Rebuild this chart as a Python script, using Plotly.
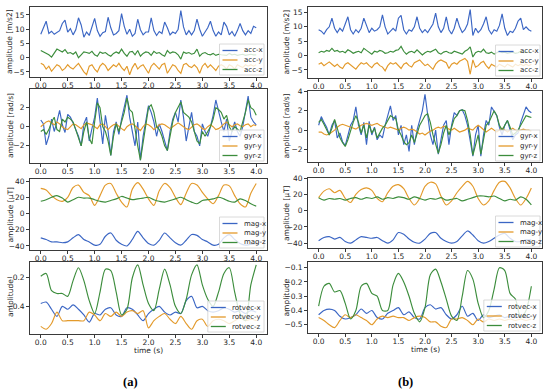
import plotly.graph_objects as go

# ---------------- time grids ----------------
t_fast = [round(i * 0.05, 2) for i in range(81)]   # acc / gyr sampling used here
t_slow = [round(i * 0.1, 1) for i in range(41)]    # mag / rotvec sampling used here

# ---------------- (a) accelerometer ----------------
acc_x_a = [8.2, 10.5, 12.8, 8.5, 9.3, 8.2, 8.8, 9.5, 12.0, 13.2, 9.0, 10.2, 8.0, 9.8, 14.0, 11.5, 7.2, 9.0, 7.8, 11.0,
           13.8, 9.5, 7.5, 8.8, 9.2, 14.2, 10.5, 8.0, 8.5, 9.5, 15.5, 11.0, 8.2, 10.0, 7.5, 8.5, 13.5, 9.8, 8.0, 9.0,
           9.0, 14.0, 9.5, 7.8, 9.2, 8.5, 12.5, 10.5, 8.0, 9.0, 8.5, 10.0, 16.5, 10.8, 8.0, 9.5, 8.0, 9.5, 13.5, 10.0,
           7.5, 9.0, 10.5, 12.8, 9.5, 7.5, 9.0, 8.0, 12.5, 11.0, 8.0, 9.2, 7.5, 9.5, 12.0, 9.5, 8.0, 9.5, 8.5, 11.0, 10.5]
acc_y_a = [-2.0, -2.5, -4.0, -3.0, -4.8, -3.5, -2.5, -3.0, -4.5, -3.8, -2.5, -3.5, -4.0, -3.0, -2.0, -3.5, -5.0, -6.0, -3.0, -2.5,
           -4.0, -5.0, -3.0, -2.0, -2.8, -4.5, -3.5, -2.5, -3.2, -2.0, -3.5, -4.5, -3.0, -6.0, -3.5, -2.0, -4.0, -3.0, -2.5, -4.0,
           -5.5, -3.0, -2.0, -3.0, -4.0, -2.5, -2.0, -5.5, -4.0, -2.5, -3.0, -4.5, -5.5, -2.5, -2.0, -3.0, -3.5, -2.5, -3.5, -5.5,
           -3.0, -2.0, -3.5, -2.5, -3.5, -4.5, -3.0, -2.5, -3.0, -4.0, -2.5, -3.0, -4.0, -2.5, -3.0, -3.5, -2.5, -3.0, -2.5, -3.0, -2.5]
acc_z_a = [2.5, 2.0, 1.5, 1.0, 0.2, 1.5, 3.0, 2.5, 2.0, 2.8, 1.5, 1.8, 1.2, 2.0, 0.0, 1.0, 2.0, 1.8, 1.5, 2.2,
           1.0, 0.5, 2.0, 1.5, 1.8, 1.0, 0.5, 1.5, 2.0, 1.5, 3.0, 1.5, 0.5, 2.0, 2.2, 1.0, 2.5, 0.5, 1.5, 2.0,
           1.8, 0.8, 2.2, 1.5, 1.8, 1.0, 0.5, 2.5, 1.5, 2.0, 1.8, 1.0, -0.5, 2.0, 1.5, 1.8, 1.2, 1.5, 3.0, 0.5,
           1.5, 1.8, 1.2, 1.0, 1.5, 0.8, 1.2, 1.0, 1.0, 0.8, 1.5, 1.0, 1.2, 0.8, 1.0, 1.2, 0.8, 1.0, 1.2, 1.0, 1.0]

# ---------------- (b) accelerometer ----------------
acc_x_b = [9.0, 8.5, 7.5, 9.0, 10.0, 13.0, 9.5, 8.0, 9.5, 8.5, 11.0, 13.5, 9.0, 7.5, 9.0, 8.0, 9.5, 13.0, 10.5, 8.0,
           9.5, 8.5, 9.0, 10.0, 14.2, 10.0, 7.5, 8.5, 9.5, 8.5, 13.0, 14.0, 9.0, 7.5, 9.0, 8.5, 10.0, 13.5, 9.5, 8.0,
           9.0, 8.0, 9.5, 11.0, 14.8, 10.0, 8.0, 9.5, 13.5, 9.0, 7.5, 9.5, 13.0, 10.0, 8.0, 9.0, 11.0, 16.0, 7.0, 9.5,
           8.0, 9.0, 11.0, 13.5, 9.0, 7.5, 9.0, 8.5, 10.5, 14.5, 9.5, 7.0, 8.5, 8.0, 9.5, 12.0, 13.0, 9.0, 10.0, 9.0, 8.5]
acc_y_b = [-3.0, -2.5, -3.5, -2.8, -2.2, -3.0, -3.8, -3.0, -4.0, -4.5, -3.0, -2.5, -3.2, -4.0, -4.7, -3.5, -2.5, -3.0, -2.5, -3.5,
           -4.2, -3.0, -2.5, -3.5, -4.0, -5.3, -3.5, -2.5, -3.0, -2.5, -3.5, -4.5, -3.0, -2.5, -3.5, -4.0, -2.5, -2.0, -1.5, -2.5,
           -3.5, -3.0, -4.0, -4.8, -3.0, -2.0, -1.5, -2.0, -2.5, -4.5, -3.0, -2.5, -3.0, -2.0, -1.5, -1.0, -2.0, -6.5, -1.5, -4.0,
           -3.5, -2.5, -2.0, -3.5, -4.5, -3.0, -3.5, -4.0, -3.0, -3.5, -4.0, -3.0, -3.5, -4.0, -3.0, -3.5, -3.0, -3.5, -3.0, -3.5, -3.0]
acc_z_b = [1.0, 1.5, 1.2, 1.8, 1.5, 2.5, 1.5, 1.8, 1.2, 1.5, 1.0, 2.0, 1.5, 0.8, 1.2, 1.5, 1.0, 2.5, 1.8, 1.0,
           0.5, 1.5, 1.2, 1.8, 1.5, 0.8, 1.0, 1.5, 1.2, 1.8, 2.0, 3.2, 1.5, 0.5, 1.2, 1.5, 1.0, 2.0, 1.2, 0.2,
           1.0, 1.5, 1.2, 1.8, 2.2, 1.0, 0.5, 1.2, 1.5, 1.0, 0.8, 1.5, 1.2, 1.0, 0.5, 1.5, 2.0, 3.0, -0.5, 1.0,
           1.5, 1.2, 2.2, 1.0, 0.8, 1.2, 0.5, 1.0, 1.5, 1.0, 1.2, 0.8, 1.0, 1.2, 0.8, 1.0, 1.5, 1.0, 1.2, 1.0, 1.0]

# ---------------- (a) gyroscope ----------------
gyr_x_a = [0.7, 0.3, -1.9, -1.0, 0.8, -0.5, 0.5, 1.7, 0.2, -0.6, 1.3, 1.0, 0.4, -0.3, -1.0, -2.0, 0.3, 1.0, -1.5, -0.2,
           1.0, 3.0, 0.8, -1.8, 1.2, -0.5, -3.0, -0.5, 0.5, -0.8, 0.8, 2.0, 3.3, 1.0, -0.5, -2.0, 0.5, -3.5, -1.0, 0.5,
           2.2, 1.5, 0.5, -1.0, 0.3, -0.5, -1.5, -2.5, -0.5, 0.8, 1.5, 0.5, 2.8, 1.0, -1.5, 0.0, 1.5, -0.5, -1.0, -2.0,
           0.3, -0.5, -1.0, 0.0, 1.2, 2.8, 1.5, 0.5, -0.5, 0.8, -1.5, -0.5, 0.5, -0.5, -1.0, 0.0, 1.5, 3.2, 1.0, 0.5, 0.2]
gyr_y_a = [0.0, 0.3, 0.5, 0.6, 0.4, 0.2, 0.5, 0.3, 0.0, -0.2, -0.3, 0.0, 0.3, 0.2, 0.0, -0.2, 0.2, 0.4, 0.3, 0.2,
           0.0, -0.2, 0.2, 0.3, 0.0, -0.3, 0.0, 0.2, 0.3, 0.0, -0.2, -0.4, 0.0, 0.2, 0.3, 0.1, -0.2, -0.4, 0.0, 0.3,
           0.2, 0.0, -0.3, 0.0, 0.2, 0.3, 0.2, 0.0, -0.2, 0.0, 0.2, 0.4, 0.2, 0.0, -0.2, -0.3, 0.0, 0.2, 0.3, 0.1,
           -0.2, -0.3, 0.0, 0.2, 0.0, -0.3, -0.2, 0.0, 0.3, 0.5, 0.2, 0.0, 0.2, 0.3, 0.1, 0.0, 0.2, 0.3, 0.0, 0.2, 0.1]
gyr_z_a = [-0.5, -0.3, -0.8, -0.3, 0.5, 1.0, -0.3, -0.5, 0.8, 0.5, 1.0, 0.8, 0.5, -0.3, -1.0, -2.0, -0.5, 0.5, -1.2, -1.8,
           0.5, 2.5, 2.0, 0.0, -0.5, -1.5, -3.0, -1.0, 0.3, -0.5, 0.5, 1.5, 3.0, 1.8, 1.5, -0.5, -2.0, -3.5, -1.5, 0.5,
           2.0, 2.3, 1.5, 0.0, -0.3, -1.0, -2.0, -2.5, -1.0, 0.5, 1.5, 2.0, 2.6, 1.5, 1.2, 1.0, 0.5, -0.5, -1.5, -1.8,
           -0.5, -1.0, -0.5, 0.0, 0.8, 2.0, 1.8, 1.5, 0.8, 1.2, 0.0, -0.5, 0.0, -0.3, -0.5, 0.5, 1.5, 2.8, 2.0, 1.8, 1.2]

# ---------------- (b) gyroscope ----------------
gyr_x_b = [0.5, 1.4, 0.8, 0.3, -0.5, 0.5, 1.0, -0.8, -0.3, -1.2, -1.6, -0.5, 0.5, 1.0, 2.4, 0.5, -0.5, 0.8, -1.5, 0.9,
           -0.5, 0.3, -1.0, -0.5, -0.8, 0.5, 1.5, 2.5, 1.0, 1.5, -0.5, 0.5, -1.5, -0.5, -2.2, 0.5, -1.5, 0.0, 1.0, 2.0,
           3.7, 1.5, -0.5, -1.5, 0.0, -2.5, -1.0, 0.5, 1.0, -1.5, 0.5, 1.8, 1.5, 2.0, 2.1, 1.5, 0.5, -1.0, -2.7, -0.5,
           0.5, -2.7, -0.5, 1.0, 0.5, 2.4, 2.0, 1.5, 0.3, -0.5, 0.5, 1.0, 0.0, -1.0, -0.5, -0.3, 0.8, 1.5, 2.4, 2.0, 1.8]
gyr_y_b = [-0.2, -0.2, -0.4, -0.5, -0.4, -0.2, 0.0, 0.3, 0.5, 0.6, 0.5, 0.4, 0.3, 0.2, 0.1, 0.3, 0.5, 0.6, 0.7, 0.6,
           0.5, 0.6, 0.7, 0.5, 0.4, 0.3, 0.2, 0.3, 0.2, 0.1, 0.0, 0.2, 0.3, 0.2, 0.0, 0.1, 0.0, -0.2, -0.4, -0.3,
           -0.5, -0.3, -0.1, 0.0, 0.2, 0.3, 0.2, 0.4, 0.3, 0.1, 0.0, 0.2, 0.0, -0.2, -0.1, 0.0, 0.2, 0.1, 0.0, 0.3,
           0.5, 0.3, 0.0, -0.2, 0.0, 0.2, 0.0, -0.2, 0.0, 0.2, 0.0, -0.2, 0.0, 0.2, 0.0, -0.1, 0.0, 0.1, 0.0, 0.0, -0.1]
gyr_z_b = [0.8, 1.1, 0.6, 0.0, -0.5, 0.2, 1.1, 0.2, -0.8, -1.3, -1.7, -1.0, 0.0, 0.8, 1.5, 0.8, -0.3, 0.5, -0.8, 0.5,
           -0.3, 0.2, -0.8, -0.3, 0.2, 0.5, 1.0, 1.5, 1.3, 1.2, 0.0, -0.5, -1.2, -1.5, -1.3, -0.5, -1.3, -0.5, 0.5, 1.0,
           1.5, 1.7, 0.8, -0.5, -1.5, -2.4, -1.5, -0.3, 0.5, -0.5, 0.3, 1.2, 1.5, 2.0, 2.1, 2.0, 1.0, -0.5, -2.6, -1.5,
           -0.5, -2.5, -0.8, 0.5, 0.8, 1.5, 2.0, 1.5, 0.5, 0.0, 0.5, 1.0, 0.3, -0.5, -0.3, 0.0, 0.5, 1.0, 1.5, 1.4, 1.3]

# ---------------- magnetometer ----------------
mag_x_a = [-30, -32, -35, -35, -36, -35, -30, -26, -32, -35, -39, -38, -28, -24, -33, -38, -40, -32, -22, -30, -37,
           -39, -33, -24, -30, -36, -39, -33, -26, -27, -32, -35, -39, -38, -30, -26, -32, -37, -39, -38, -37]
mag_y_a = [31, 29, 22, 17, 15, 20, 32, 35, 26, 22, 10, 22, 35, 37, 25, 14, 8, 30, 38, 30, 18,
           10, 28, 37, 32, 20, 11, 25, 37, 35, 26, 18, 12, 22, 35, 34, 22, 12, 8, 25, 37]
mag_z_a = [15, 17, 20, 22, 19, 14, 17, 20, 19, 19, 17, 15, 14, 16, 18, 21, 19, 17, 18, 19, 20,
           17, 15, 14, 16, 18, 20, 17, 14, 12, 16, 17, 18, 20, 18, 15, 14, 18, 16, 12, 9]
mag_x_b = [-37, -33, -32, -35, -33, -38, -40, -36, -32, -33, -34, -33, -37, -40, -36, -27, -29, -35, -39, -40, -35,
           -28, -27, -34, -38, -40, -38, -31, -25, -30, -37, -40, -38, -34, -30, -28, -34, -38, -38, -36, -36]
mag_y_b = [16, 24, 27, 22, 25, 15, 10, 20, 26, 28, 25, 15, 11, 22, 30, 32, 27, 15, 7, 15, 30,
           35, 33, 18, 7, 12, 22, 30, 36, 30, 15, 7, 12, 25, 35, 36, 28, 15, 7, 15, 28]
mag_z_b = [16, 13, 15, 14, 15, 13, 15, 16, 14, 16, 15, 17, 14, 16, 15, 17, 16, 14, 17, 15, 13,
           15, 14, 16, 13, 14, 15, 12, 14, 16, 18, 18, 17, 18, 15, 12, 14, 13, 17, 14, 7]

# ---------------- rotation vector ----------------
rot_x_a = [-0.38, -0.37, -0.42, -0.47, -0.40, -0.42, -0.39, -0.42, -0.46, -0.51, -0.45, -0.46, -0.42, -0.41,
           -0.46, -0.47, -0.41, -0.42, -0.46, -0.50, -0.45, -0.42, -0.40, -0.44, -0.46, -0.44, -0.45, -0.36,
           -0.33, -0.41, -0.40, -0.43, -0.44, -0.43, -0.41, -0.42, -0.44, -0.43, -0.45, -0.43, -0.44]
rot_y_a = [-0.54, -0.56, -0.52, -0.44, -0.50, -0.50, -0.50, -0.50, -0.50, -0.44, -0.46, -0.50, -0.45, -0.47,
           -0.44, -0.47, -0.44, -0.43, -0.45, -0.43, -0.55, -0.50, -0.47, -0.45, -0.49, -0.52, -0.47, -0.52,
           -0.56, -0.50, -0.49, -0.54, -0.50, -0.49, -0.50, -0.52, -0.50, -0.48, -0.50, -0.49, -0.50]
rot_z_a = [-0.19, -0.17, -0.29, -0.31, -0.31, -0.33, -0.22, -0.13, -0.22, -0.36, -0.45, -0.30, -0.14, -0.15,
           -0.30, -0.46, -0.42, -0.20, -0.11, -0.25, -0.38, -0.43, -0.28, -0.14, -0.25, -0.40, -0.45, -0.35,
           -0.18, -0.11, -0.25, -0.35, -0.40, -0.30, -0.17, -0.13, -0.30, -0.45, -0.50, -0.25, -0.11]
rot_x_b = [-0.43, -0.40, -0.39, -0.40, -0.44, -0.46, -0.45, -0.43, -0.39, -0.42, -0.40, -0.45, -0.46, -0.42,
           -0.40, -0.38, -0.43, -0.41, -0.45, -0.46, -0.38, -0.36, -0.39, -0.38, -0.43, -0.46, -0.43, -0.37,
           -0.44, -0.42, -0.47, -0.43, -0.45, -0.44, -0.43, -0.45, -0.44, -0.45, -0.44, -0.45, -0.44]
rot_y_b = [-0.45, -0.47, -0.50, -0.52, -0.47, -0.43, -0.45, -0.43, -0.45, -0.47, -0.50, -0.46, -0.44, -0.45,
           -0.44, -0.45, -0.45, -0.47, -0.45, -0.44, -0.45, -0.48, -0.48, -0.51, -0.52, -0.46, -0.46, -0.45,
           -0.47, -0.50, -0.46, -0.48, -0.46, -0.47, -0.46, -0.47, -0.46, -0.47, -0.46, -0.47, -0.46]
rot_z_b = [-0.37, -0.23, -0.21, -0.27, -0.26, -0.35, -0.46, -0.40, -0.23, -0.21, -0.28, -0.30, -0.40, -0.40,
           -0.22, -0.14, -0.20, -0.30, -0.42, -0.48, -0.38, -0.15, -0.11, -0.20, -0.32, -0.44, -0.47, -0.30,
           -0.12, -0.18, -0.35, -0.45, -0.40, -0.25, -0.10, -0.12, -0.28, -0.32, -0.45, -0.40, -0.23]

x_ticks = [0.0, 0.5, 1.0, 1.5, 2.0, 2.5, 3.0, 3.5, 4.0]

COLORS = ["#3b66c4", "#e39a2b", "#3c8d3c"]
FONT = "DejaVu Sans"
TXT = "#262626"

# panel definitions
panels = [
    (t_fast, [acc_x_a, acc_y_a, acc_z_a], ["acc-x", "acc-y", "acc-z"], "amplitude [m/s2]",
     [-6.8, 17.8], [-5, 0, 5, 10, 15], "", "linear", (30, 267, 7, 77), (264, 75)),
    (t_fast, [acc_x_b, acc_y_b, acc_z_b], ["acc-x", "acc-y", "acc-z"], "amplitude [m/s2]",
     [-7.8, 16.9], [-5, 0, 5, 10, 15], "", "linear", (308, 542, 7, 78), (540, 76)),
    (t_fast, [gyr_x_a, gyr_y_a, gyr_z_a], ["gyr-x", "gyr-y", "gyr-z"], "amplitude [rad/s]",
     [-3.8, 3.95], [-2, 0, 2], "", "linear", (30, 267, 89, 163), (264, 161)),
    (t_fast, [gyr_x_b, gyr_y_b, gyr_z_b], ["gyr-x", "gyr-y", "gyr-z"], "amplitude [rad/s]",
     [-3.3, 4.05], [-2, 0, 2, 4], "", "linear", (308, 542, 91, 162), (540, 161)),
    (t_slow, [mag_x_a, mag_y_a, mag_z_a], ["mag-x", "mag-y", "mag-z"], "amplitude [μT]",
     [-45, 42.5], [-40, -20, 0, 20, 40], "", "spline", (30, 267, 179, 250), (264, 248)),
    (t_slow, [mag_x_b, mag_y_b, mag_z_b], ["mag-x", "mag-y", "mag-z"], "amplitude [μT]",
     [-46, 40.2], [-40, -20, 0, 20, 40], "", "spline", (308, 542, 178, 248), (540, 247)),
    (t_slow, [rot_x_a, rot_y_a, rot_z_a], ["rotvec-x", "rotvec-y", "rotvec-z"], "amplitude",
     [-0.593, -0.09], [-0.4, -0.2], ".1f", "spline", (30, 267, 262, 334), (264, 332)),
    (t_slow, [rot_x_b, rot_y_b, rot_z_b], ["rotvec-x", "rotvec-y", "rotvec-z"], "amplitude",
     [-0.558, -0.06], [-0.5, -0.4, -0.3, -0.2, -0.1], ".1f", "spline", (308, 542, 262, 333), (540, 331)),
]

W, H = 550, 391


def px(x):
    return x / W


def py(y):
    return 1 - y / H


fig = go.Figure()
layout = dict(
    width=W, height=H, margin=dict(l=0, r=0, t=0, b=0, autoexpand=False),
    paper_bgcolor="white", plot_bgcolor="white",
    font=dict(family=FONT, size=7, color=TXT),
    showlegend=False,
)
annotations = []
shapes = []

for i, (tt, series, names, ytitle, yr, yt, yfmt, shape, box, leg) in enumerate(panels):
    n = i + 1
    sfx = "" if n == 1 else str(n)
    for s, name, c in zip(series, names, COLORS):
        line = dict(color=c, width=1.15, shape=shape)
        if shape == "spline":
            line["smoothing"] = 0.8
        fig.add_trace(go.Scatter(x=tt, y=s, mode="lines", name=name, line=line,
                                 xaxis="x" + sfx, yaxis="y" + sfx, hoverinfo="skip"))
    x0, x1, y0, y1 = box
    axis_common = dict(showline=True, mirror=True, linecolor="#3a3a3a", linewidth=0.8,
                       ticks="outside", ticklen=3, tickwidth=0.8, tickcolor="#3a3a3a", automargin=False,
                       showgrid=False, zeroline=False, tickfont=dict(size=7.5, family=FONT, color=TXT))
    layout["xaxis" + sfx] = dict(domain=[px(x0), px(x1)], anchor="y" + sfx, range=[-0.2, 4.2],
                                 tickvals=x_ticks, tickformat=".1f", ticklabelstandoff=-2, **axis_common)
    ydict = dict(domain=[py(y1), py(y0)], anchor="x" + sfx, range=yr, tickvals=yt, **axis_common)
    if yfmt:
        ydict["tickformat"] = yfmt
    layout["yaxis" + sfx] = ydict

    # legend (box, line samples, labels) in the lower-right corner of the panel
    lr, lb = leg
    maxlen = max(len(nm) for nm in names)
    bw = 22 + maxlen * 3.9 + 3
    bh = 31
    bl, bt = lr - bw, lb - bh
    shapes.append(dict(type="rect", xref="paper", yref="paper", x0=px(bl), x1=px(lr), y0=py(lb), y1=py(bt),
                       fillcolor="rgba(255,255,255,0.8)", line=dict(color="#d0d0d0", width=0.8), layer="above"))
    for k, (nm, c) in enumerate(zip(names, COLORS)):
        ry = bt + 6.5 + k * 9.5
        shapes.append(dict(type="line", xref="paper", yref="paper", x0=px(bl + 3), x1=px(bl + 18),
                           y0=py(ry), y1=py(ry), line=dict(color=c, width=1.3), layer="above"))
        annotations.append(dict(text=nm, x=px(bl + 22), y=py(ry), xref="paper", yref="paper",
                                xanchor="left", yanchor="middle", showarrow=False,
                                font=dict(size=7, family=FONT, color=TXT)))

    # y-axis title
    tx = 10 if x0 < 100 else 286
    annotations.append(dict(text=ytitle, x=px(tx), y=py((y0 + y1) / 2), xref="paper", yref="paper",
                            textangle=-90, showarrow=False, font=dict(size=7.5, family=FONT, color=TXT),
                            xanchor="center", yanchor="middle"))

# x-axis titles
for tx_, ty_ in [(148, 350), (425, 349)]:
    annotations.append(dict(text="time (s)", x=px(tx_), y=py(ty_), xref="paper", yref="paper",
                            xanchor="center", yanchor="middle",
                            showarrow=False, font=dict(size=7.5, family=FONT, color=TXT)))
# sub-figure labels
for lab, lx_ in [("(a)", 130), ("(b)", 405)]:
    annotations.append(dict(text="<b>" + lab + "</b>", x=px(lx_), y=py(382), xref="paper", yref="paper",
                            xanchor="center", yanchor="middle",
                            showarrow=False, font=dict(size=12.5, family="Liberation Serif", color="#000")))

layout["annotations"] = annotations
layout["shapes"] = shapes
fig.update_layout(**layout)
fig.write_html("out.html", config={"displayModeBar": False},
               post_script="document.body.style.margin='0';document.body.style.padding='0';")
